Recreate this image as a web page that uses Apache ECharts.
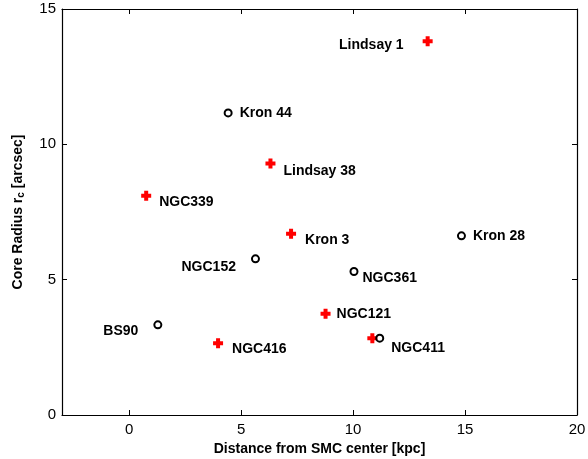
<!DOCTYPE html>
<html><head><meta charset="utf-8">
<script src="https://cdn.jsdelivr.net/npm/echarts@6/dist/echarts.min.js"></script>
<style>html,body{margin:0;padding:0;background:#fff}#c{width:588px;height:459px}</style>
</head><body><div id="c"></div>
<script>
// Red crosses
const crossNames = ['Lindsay 1','Lindsay 38','NGC339','Kron 3','NGC121','NGC416','NGC411'];
const crossX = [13.33, 6.31, 0.76, 7.23, 8.77, 3.97, 10.86];
const crossY = [13.81, 9.29, 8.10, 6.70, 3.74, 2.65, 2.84];
// Black circles
const circleNames = ['Kron 44','NGC152','NGC361','Kron 28','BS90','NGC411'];
const circleX = [4.42, 5.64, 10.04, 14.84, 1.28, 11.19];
const circleY = [11.16, 5.77, 5.30, 6.62, 3.33, 2.84];
const xTicks = [0, 5, 10, 15, 20];
const yTicks = [0, 5, 10, 15];

// label placement (style only)
const labelPos = {
  'Lindsay 1': {position:'left', offset:[-14,4]},
  'Lindsay 38': {position:'right', offset:[3,8]},
  'NGC339': {position:'right', offset:[3,6]},
  'Kron 3': {position:'right', offset:[4,6]},
  'NGC121': {position:'right', offset:[1,0]},
  'NGC416': {position:'right', offset:[4,6]},
  'NGC411': {position:'right', offset:[2,10]},
  'Kron 44': {position:'right', offset:[2,0]},
  'NGC152': {position:'left', offset:[-10,8]},
  'NGC361': {position:'right', offset:[-1,7]},
  'Kron 28': {position:'right', offset:[2,0]},
  'BS90': {position:'left', offset:[-10,6]}
};

const labelFont = {color:'#000', fontFamily:'Liberation Sans, Arial', fontWeight:'bold', fontSize:14};

const crossData = crossNames.map((n,i)=>({value:[crossX[i],crossY[i]], name:n,
  label: Object.assign({show: n!=='NGC411', formatter:'{b}'}, labelFont, labelPos[n])}));
const circleData = circleNames.map((n,i)=>({value:[circleX[i],circleY[i]], name:n,
  label: Object.assign({show:true, formatter:'{b}'}, labelFont, labelPos[n])}));

const chart = echarts.init(document.getElementById('c'), null, {renderer:'canvas'});
const axLine = {show:true, onZero:false, lineStyle:{color:'#000', width:1.2}};
const tickFont = {color:'#000', fontFamily:'Liberation Sans, Arial', fontSize:15};
chart.setOption({
  animation:false,
  backgroundColor:'#fff',
  grid:{left:62, right:11, top:9, bottom:44, containLabel:false, outerBoundsMode:'none'},
  xAxis:[{
    type:'value', min:-3, max:20, position:'bottom',
    axisLine:axLine, splitLine:{show:false},
    axisTick:{show:true, inside:true, length:5, customValues:xTicks, lineStyle:{color:'#000'}},
    axisLabel:Object.assign({customValues:xTicks, margin:7}, tickFont),
    name:'Distance from SMC center [kpc]', nameLocation:'middle', nameGap:24,
    nameTextStyle:{color:'#000', fontFamily:'Liberation Sans, Arial', fontWeight:'bold', fontSize:14}
  },{
    type:'value', min:-3, max:20, position:'top',
    axisLine:axLine, splitLine:{show:false},
    axisTick:{show:true, inside:true, length:5, customValues:xTicks, lineStyle:{color:'#000'}},
    axisLabel:{show:false}
  }],
  yAxis:[{
    type:'value', min:0, max:15, interval:5, position:'left',
    axisLine:axLine, splitLine:{show:false},
    axisTick:{show:true, inside:true, length:5, lineStyle:{color:'#000'}},
    axisLabel:Object.assign({margin:6}, tickFont),
    name:'Core Radius r{sub|c} [arcsec]', nameLocation:'middle', nameGap:37, nameRotate:90,
    nameTextStyle:{color:'#000', fontFamily:'Liberation Sans, Arial', fontWeight:'bold', fontSize:14,
      rich:{sub:{fontFamily:'Liberation Sans, Arial', fontWeight:'bold', fontSize:10, padding:[0,0,-7,0], color:'#000'}}}
  },{
    type:'value', min:0, max:15, interval:5, position:'right',
    axisLine:axLine, splitLine:{show:false},
    axisTick:{show:true, inside:true, length:5, lineStyle:{color:'#000'}},
    axisLabel:{show:false}
  }],
  series:[{
    type:'scatter', xAxisIndex:0, yAxisIndex:0,
    symbol:'path://M3,0H7V3H10V7H7V10H3V7H0V3H3Z', symbolSize:10,
    itemStyle:{color:'#ff0000', opacity:1}, data:crossData, z:3
  },{
    type:'scatter', xAxisIndex:0, yAxisIndex:0,
    symbol:'circle', symbolSize:7,
    itemStyle:{color:'rgba(255,255,255,0)', borderColor:'#000', borderWidth:2, opacity:1}, data:circleData, z:4
  }]
});
</script></body></html>
